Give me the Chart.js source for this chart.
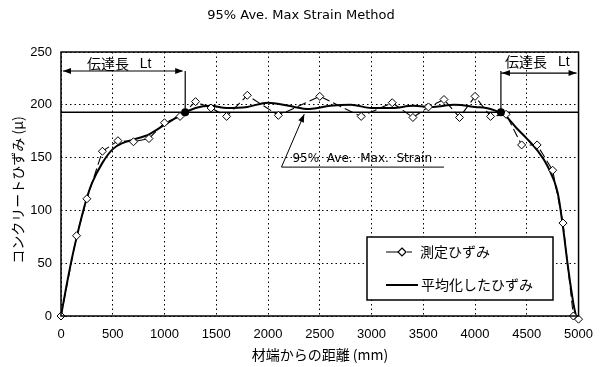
<!DOCTYPE html>
<html>
<head>
<meta charset="utf-8">
<script src="https://cdn.jsdelivr.net/npm/chart.js@4"></script>
<style>
  body { margin: 0; background: #fff; }
</style>
</head>
<body>
<canvas id="strainChart" width="604" height="367"></canvas>
<script>
// 測定ひずみ (measured points)
const measuredX = [0, 150, 250, 400, 550, 700, 850, 1000, 1150, 1300, 1450, 1600, 1800, 2100, 2500, 2900, 3200, 3400, 3550, 3700, 3850, 4000, 4150, 4300, 4450, 4600, 4750, 4850, 4950, 5000];
const measuredY = [0, 76, 111, 156, 166, 165, 168, 183, 189, 203, 197, 189, 209, 190, 208, 189, 202, 188, 198, 205, 188, 208, 189, 191, 162, 162, 138, 88, 0, -3];

// 平均化したひずみ (smoothed curve)
const smoothX = [0, 50, 100, 150, 200, 250, 300, 400, 500, 600, 700, 850, 1000, 1150, 1300, 1450, 1600, 1800, 2000, 2200, 2400, 2600, 2800, 3000, 3200, 3400, 3600, 3800, 4000, 4150, 4300, 4400, 4500, 4600, 4700, 4800, 4850, 4900, 4950, 4975];
const smoothY = [0, 27, 52, 74, 94, 112, 126, 145, 158, 164, 167, 172, 181, 190, 197, 199, 197, 198, 202, 199, 196, 199, 200, 197, 197, 199, 198, 200, 198, 196, 189, 178, 168, 157, 142, 116, 84, 45, 12, 0];

// 95% Ave. Max. Strain level and transfer length ends
const aveMaxStrain = 193;
const ltEnds = [1200, 4250];
const ltArrowY = [232, 230];

const xTickStep = 500;
const yTickStep = 50;

const cjk = '"Noto Sans CJK JP", sans-serif';
const latin = '"Liberation Sans", Arial, sans-serif';

const toXY = (xs, ys) => xs.map((v, i) => ({ x: v, y: ys[i] }));

function arrowHead(ctx, x, y, dir) {
    ctx.beginPath();
    ctx.moveTo(x, y);
    ctx.lineTo(x - dir * 8, y - 3);
    ctx.lineTo(x - dir * 8, y + 3);
    ctx.closePath();
    ctx.fill();
}

const extras = {
    id: 'extras',
    afterDatasetsDraw(chart) {
        const { ctx, chartArea: a, scales: { x, y } } = chart;
        ctx.save();
        ctx.strokeStyle = '#000';
        ctx.fillStyle = '#000';

        // plot frame
        ctx.lineWidth = 1.5;
        ctx.strokeRect(a.left, a.top, a.right - a.left, a.bottom - a.top);

        // 伝達長 Lt (left)
        ctx.lineWidth = 1.2;
        const lx = x.getPixelForValue(ltEnds[0]);
        const ly = y.getPixelForValue(ltArrowY[0]);
        const hy = y.getPixelForValue(aveMaxStrain);
        ctx.beginPath();
        ctx.moveTo(a.left + 2, ly); ctx.lineTo(lx - 3, ly);
        ctx.moveTo(lx, ly); ctx.lineTo(lx, hy);
        ctx.stroke();
        arrowHead(ctx, a.left + 2, ly, -1);
        arrowHead(ctx, lx - 2, ly, 1);

        // 伝達長 Lt (right)
        const rx = x.getPixelForValue(ltEnds[1]);
        const ry = y.getPixelForValue(ltArrowY[1]);
        ctx.beginPath();
        ctx.moveTo(rx, ry); ctx.lineTo(a.right - 2, ry);
        ctx.moveTo(rx, ry - 2); ctx.lineTo(rx, hy);
        ctx.stroke();
        arrowHead(ctx, rx + 1, ry, -1);
        arrowHead(ctx, a.right - 2, ry, 1);

        ctx.textBaseline = 'middle';
        ctx.textAlign = 'left';
        ctx.font = '14px ' + cjk;
        ctx.fillText('伝達長', x.getPixelForValue(250), ly - 7);
        ctx.fillText('伝達長', rx + 4, ry - 11);
        ctx.font = '14px ' + latin;
        ctx.fillText('Lt', x.getPixelForValue(760), ly - 7);
        ctx.fillText('Lt', rx + 57, ry - 11);

        // 95% Ave. Max. Strain leader
        const tipX = x.getPixelForValue(2350);
        const baseX = x.getPixelForValue(2130);
        const endX = x.getPixelForValue(3700);
        const baseY = y.getPixelForValue(141);
        ctx.lineWidth = 1;
        ctx.beginPath();
        ctx.moveTo(endX, baseY); ctx.lineTo(baseX, baseY); ctx.lineTo(tipX, hy + 2);
        ctx.stroke();
        const ang = Math.atan2((hy + 2) - baseY, tipX - baseX);
        ctx.save();
        ctx.translate(tipX, hy + 2);
        ctx.rotate(ang);
        arrowHead(ctx, 0, 0, 1);
        ctx.restore();
        ctx.font = '12px "DejaVu Sans", sans-serif';
        ctx.fillText('95%  Ave.  Max.  Strain', baseX + 11, baseY - 8);

        // 95% Ave. Max. Strain level marks
        ltEnds.forEach(v => {
            ctx.beginPath();
            ctx.arc(x.getPixelForValue(v), hy, 4, 0, Math.PI * 2);
            ctx.fill();
        });

        // legend box
        const bx = a.left + 306, by = a.top + 185, bw = 186, bh = 63;
        ctx.fillStyle = '#fff';
        ctx.fillRect(bx, by, bw, bh);
        ctx.lineWidth = 1.5;
        ctx.strokeRect(bx, by, bw, bh);
        ctx.fillStyle = '#000';
        ctx.lineWidth = 1.2;
        const e1 = by + 15, e2 = by + 48;
        ctx.beginPath();
        ctx.moveTo(bx + 19, e1); ctx.lineTo(bx + 31, e1);
        ctx.moveTo(bx + 40, e1); ctx.lineTo(bx + 45, e1);
        ctx.stroke();
        ctx.fillStyle = '#fff';
        ctx.beginPath();
        ctx.moveTo(bx + 35, e1 - 4); ctx.lineTo(bx + 39, e1);
        ctx.lineTo(bx + 35, e1 + 4); ctx.lineTo(bx + 31, e1);
        ctx.closePath();
        ctx.fill(); ctx.stroke();
        ctx.fillStyle = '#000';
        ctx.lineWidth = 2;
        ctx.beginPath();
        ctx.moveTo(bx + 19, e2); ctx.lineTo(bx + 51, e2);
        ctx.stroke();
        ctx.font = '14px ' + cjk;
        ctx.fillText('測定ひずみ', bx + 53, e1);
        ctx.fillText('平均化したひずみ', bx + 54, e2);

        // title and axis titles
        ctx.textAlign = 'center';
        ctx.font = '13px "DejaVu Sans", sans-serif';
        ctx.fillText('95% Ave. Max Strain Method', 301, 16);
        ctx.font = '14px ' + cjk;
        ctx.fillText('材端からの距離 (mm)', 320, 355);
        ctx.save();
        ctx.translate(18, 190);
        ctx.rotate(-Math.PI / 2);
        ctx.fillText('コンクリートひずみ (μ)', 0, 0);
        ctx.restore();

        ctx.restore();
    }
};

const gridStyle = { color: '#000', lineWidth: 1, drawTicks: false };

new Chart(document.getElementById('strainChart'), {
    type: 'line',
    data: {
        datasets: [
            {
                label: '測定ひずみ',
                data: toXY(measuredX, measuredY),
                borderColor: '#000',
                borderWidth: 1.1,
                borderDash: [9, 4],
                pointStyle: 'rectRot',
                pointRadius: 4,
                pointBackgroundColor: '#fff',
                pointBorderColor: '#000',
                pointBorderWidth: 1,
                tension: 0,
                clip: 8
            },
            {
                label: '平均化したひずみ',
                data: toXY(smoothX, smoothY),
                borderColor: '#000',
                borderWidth: 2,
                pointRadius: 0,
                cubicInterpolationMode: 'monotone'
            },
            {
                label: '95% Ave. Max. Strain',
                data: [{ x: 0, y: aveMaxStrain }, { x: 5000, y: aveMaxStrain }],
                borderColor: '#000',
                borderWidth: 1.5,
                pointRadius: 0
            }
        ]
    },
    options: {
        responsive: false,
        animation: false,
        layout: { padding: { top: 52, right: 22, left: 0, bottom: 0 } },
        plugins: {
            legend: { display: false },
            title: { display: false },
            tooltip: { enabled: false }
        },
        scales: {
            x: {
                type: 'linear',
                min: 0,
                max: 5000,
                ticks: { stepSize: xTickStep, padding: 11, color: '#000', font: { family: latin, size: 13 }, callback: v => String(v) },
                grid: gridStyle,
                border: { display: false, dash: [1.5, 3] },
                afterFit: s => { s.height = 51; }
            },
            y: {
                min: 0,
                max: 250,
                ticks: { stepSize: yTickStep, padding: 9, color: '#000', font: { family: latin, size: 13 }, callback: v => String(v) },
                grid: gridStyle,
                border: { display: false, dash: [1.5, 3] },
                afterFit: s => { s.width = 61; }
            }
        }
    },
    plugins: [extras]
});
</script>
</body>
</html>
